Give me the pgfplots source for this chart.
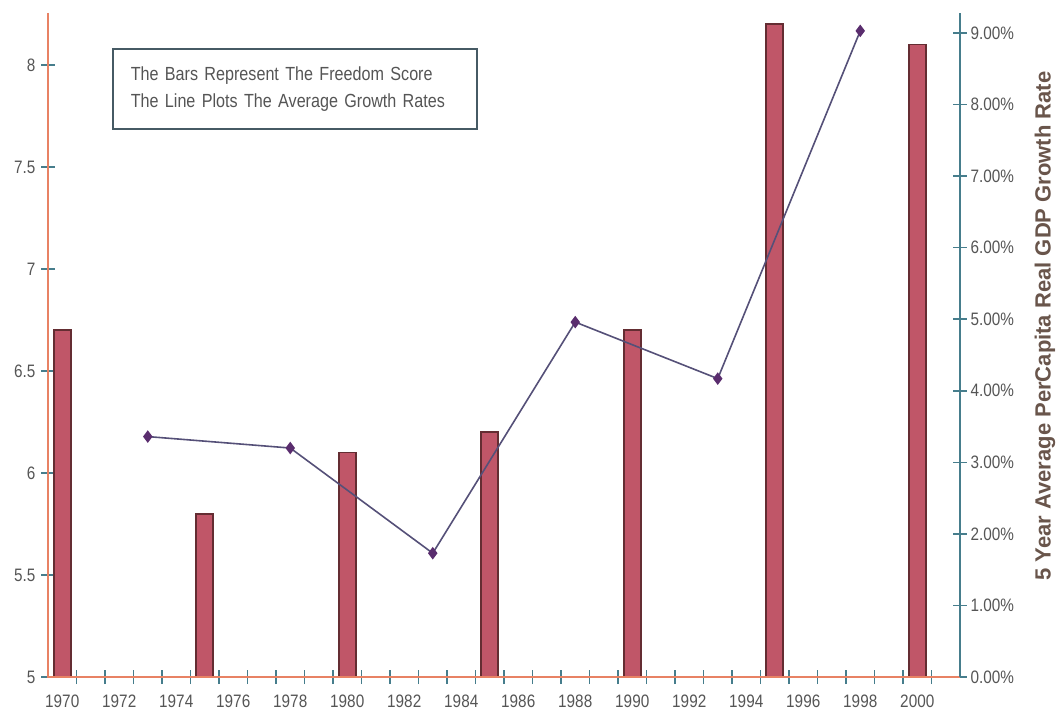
\documentclass[border=0pt]{standalone}
\usepackage{pgfplots}
\pgfplotsset{compat=1.18}
\usepackage{fontspec}
\setmainfont{Liberation Sans}
\newfontfamily\narrowfont[FakeStretch=0.85]{Liberation Sans}

\definecolor{barfill}{RGB}{192,86,104}
\definecolor{baredge}{RGB}{100,45,50}
\definecolor{linecol}{RGB}{85,80,120}
\definecolor{markcol}{RGB}{90,45,110}
\definecolor{axsalmon}{RGB}{232,130,100}
\definecolor{axteal}{RGB}{70,125,140}
\definecolor{txt}{RGB}{85,85,85}
\definecolor{boxedge}{RGB}{70,90,100}
\definecolor{rlabel}{RGB}{105,85,75}

\pgfplotsset{
  common/.style={
    at={(0,0)}, anchor=south west,
    scale only axis, width=912pt, height=664pt,
    xmin=1969.5, xmax=2001.5,
    axis line style={draw=none},
    tick align=center,
    major tick length=14pt,
    tick style={draw=axteal, line width=1.5pt},
    /pgf/number format/assume math mode=true,
    /pgf/number format/1000 sep={},
    tick label style={text=txt, font=\narrowfont\fontsize{18}{20}\selectfont},
  },
}

\begin{document}
\begin{tikzpicture}
\useasboundingbox (-48pt,-42pt) rectangle (1008pt,677pt);

% Freedom score (bars, left axis)
\begin{axis}[common, name=ax1,
  ymin=5, ymax=8.255,
  xtick pos=bottom, ytick pos=left,
  % ticks sit between the yearly categories, labels on every second year
  xtick={1970.5,1971.5,...,2000.5},
  xticklabels={},
  extra x ticks={1970,1972,...,2000},
  extra x tick style={major tick length=0pt,
    xticklabel style={yshift=-14pt}},
  ytick={5,5.5,...,8},
  yticklabel style={xshift=-2pt},
]
\addplot[ybar, bar width=17pt, fill=barfill, draw=baredge, line width=1.6pt]
  coordinates {(1970,6.7)(1975,5.8)(1980,6.1)(1985,6.2)(1990,6.7)(1995,8.2)(2000,8.1)};
\node[draw=boxedge, line width=1.5pt, anchor=north west, fill=white,
      minimum width=364pt, minimum height=80pt, text width=328pt,
      inner xsep=18pt, align=left, text=txt,
      font=\narrowfont\fontsize{19}{27}\selectfont]
  at (rel axis cs:0.0702,0.947)
  {The Bars Represent The Freedom Score\\The Line Plots The Average Growth Rates};
\end{axis}

% Average growth rate (line, right axis)
\begin{axis}[common, name=ax2, clip=false,
  ymin=0, ymax=9.28,
  xtick=\empty, ytick pos=right,
  ytick={0,1,...,9},
  yticklabel={\pgfmathprintnumber[fixed,fixed zerofill,precision=2]{\tick}\%},
]
\addplot[linecol, line width=1.6pt, mark=diamond*, mark size=5pt,
         mark options={fill=markcol, draw=markcol}]
  coordinates {(1973,3.36)(1978,3.2)(1983,1.73)(1988,4.96)(1993,4.17)(1998,9.03)};
\end{axis}

% axis lines: salmon left and bottom, teal right
\draw[axsalmon, line width=1.2pt] (ax1.north west) -- (ax1.south west) -- (ax1.south east);
\draw[axteal, line width=1.2pt] (ax2.south east) -- (ax2.north east);

\node[rotate=90, text=rlabel, font=\bfseries\fontsize{22}{25}\selectfont]
  at ([xshift=85pt, yshift=19pt]ax2.east)
  {5 Year Average PerCapita Real GDP Growth Rate};
\end{tikzpicture}
\end{document}
